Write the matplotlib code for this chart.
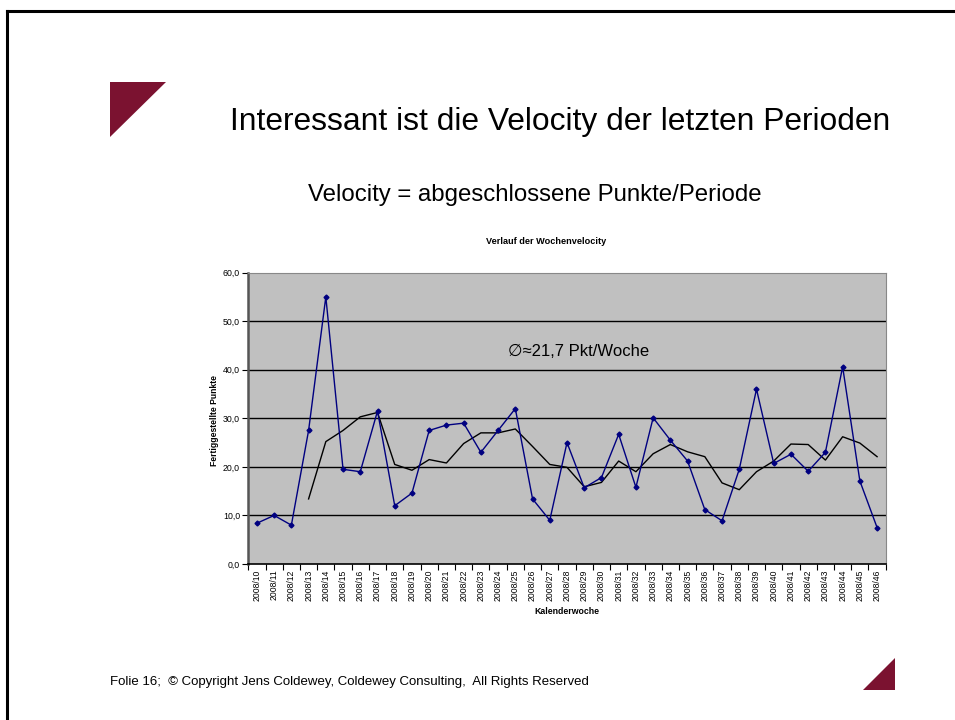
import matplotlib
matplotlib.use("Agg")
import matplotlib.pyplot as plt
from matplotlib.patches import Polygon
from matplotlib.lines import Line2D
import numpy as np

plt.rcParams['font.family'] = ['Liberation Sans', 'DejaVu Sans']

weeks = [f"2008/{w}" for w in range(10, 47)]
velocity = [8.4, 10.0, 8.0, 27.5, 55.0, 19.5, 19.0, 31.5, 12.0, 14.6,
            27.5, 28.6, 29.0, 23.0, 27.5, 32.0, 13.4, 9.0, 25.0, 15.7,
            17.8, 26.7, 15.8, 30.1, 25.5, 21.2, 11.2, 8.9, 19.5, 36.0,
            20.7, 22.6, 19.1, 23.0, 40.6, 17.1, 7.5]
moving_avg = [None, None, None, 13.4, 25.2, 27.5, 30.3, 31.2, 20.5, 19.3,
              21.5, 20.8, 24.8, 27.0, 27.0, 27.8, 24.2, 20.5, 19.9, 15.9,
              16.8, 21.2, 19.0, 22.7, 24.6, 23.1, 22.1, 16.7, 15.3, 19.0,
              21.2, 24.7, 24.6, 21.4, 26.2, 24.9, 22.1]
yticks = [0, 10, 20, 30, 40, 50, 60]

W, H = 955, 720
fig = plt.figure(figsize=(W / 100, H / 100), dpi=100)

def fx(px):
    return px / W

def fy(py):
    return 1 - py / H

# slide frame (top and left lines)
fig.add_artist(Line2D([fx(7), 1.0], [fy(11), fy(11)], color='black', lw=2.2))
fig.add_artist(Line2D([fx(7), fx(7)], [fy(11), 0.0], color='black', lw=2.2))

red = '#7B1230'
fig.add_artist(Polygon([(fx(110), fy(82)), (fx(166), fy(82)), (fx(110), fy(137))],
                       closed=True, facecolor=red, edgecolor='none'))
fig.add_artist(Polygon([(fx(863), fy(690)), (fx(895), fy(658)), (fx(895), fy(690))],
                       closed=True, facecolor=red, edgecolor='none'))

fig.text(fx(560), fy(122), "Interessant ist die Velocity der letzten Perioden",
         ha='center', va='center', fontsize=22.9)
fig.text(fx(535), fy(195), "Velocity = abgeschlossene Punkte/Periode",
         ha='center', va='center', fontsize=17.3)
fig.text(fx(546), fy(242), "Verlauf der Wochenvelocity",
         ha='center', va='center', fontsize=6.6, fontweight='bold')
fig.text(fx(110), fy(682), "Folie 16;  \u00a9 Copyright Jens Coldewey, Coldewey Consulting,  All Rights Reserved",
         ha='left', va='center', fontsize=9.5)

ax = fig.add_axes([fx(248.3), fy(564), fx(885.7) - fx(248.3), (564 - 272.6) / H])
ax.set_facecolor('#C0C0C0')
x = np.arange(len(weeks))
ax.set_xlim(-0.5, len(weeks) - 0.5)
ax.set_ylim(0, 60)

for v in yticks[1:-1]:
    ax.axhline(v, color='black', lw=1.0, zorder=1)

ax.plot(x, velocity, color='#000080', lw=1.0, marker='D', markersize=2.5,
        markerfacecolor='#000080', markeredgecolor='#000080', zorder=3)
ma = np.array([np.nan if v is None else v for v in moving_avg], dtype=float)
ax.plot(x, ma, color='black', lw=1.0, zorder=2)

ax.set_xticks(x)
ax.set_xticklabels(weeks, rotation=90, fontsize=6.2)
ax.set_xticks(np.arange(-0.5, len(weeks)), minor=True)
ax.tick_params(axis='x', which='major', length=0, pad=4)
ax.tick_params(axis='x', which='minor', length=4, width=0.8, direction='out')
ax.set_yticks(yticks)
ax.set_yticklabels([f"{v},0" for v in yticks], fontsize=6.3)
ax.tick_params(axis='y', length=4, width=0.8, direction='out', pad=2)

ax.spines['left'].set_color('#555555')
ax.spines['left'].set_linewidth(1.8)
ax.spines['bottom'].set_color('black')
ax.spines['bottom'].set_linewidth(1.2)
ax.spines['top'].set_color('#888888')
ax.spines['right'].set_color('#888888')

ax.text((508 - 248.3) / (885.7 - 248.3), (564 - 351) / (564 - 272.6), "\u2205\u224821,7 Pkt/Woche",
        transform=ax.transAxes, ha='left', va='center', fontsize=12)

fig.text(fx(567), fy(612), "Kalenderwoche", ha='center', va='center',
         fontsize=6.3, fontweight='bold')
fig.text(fx(214), fy(420), "Fertiggestellte Punkte", ha='center', va='center',
         fontsize=6.2, fontweight='bold', rotation=90)

fig.savefig("out.png", dpi=100)
